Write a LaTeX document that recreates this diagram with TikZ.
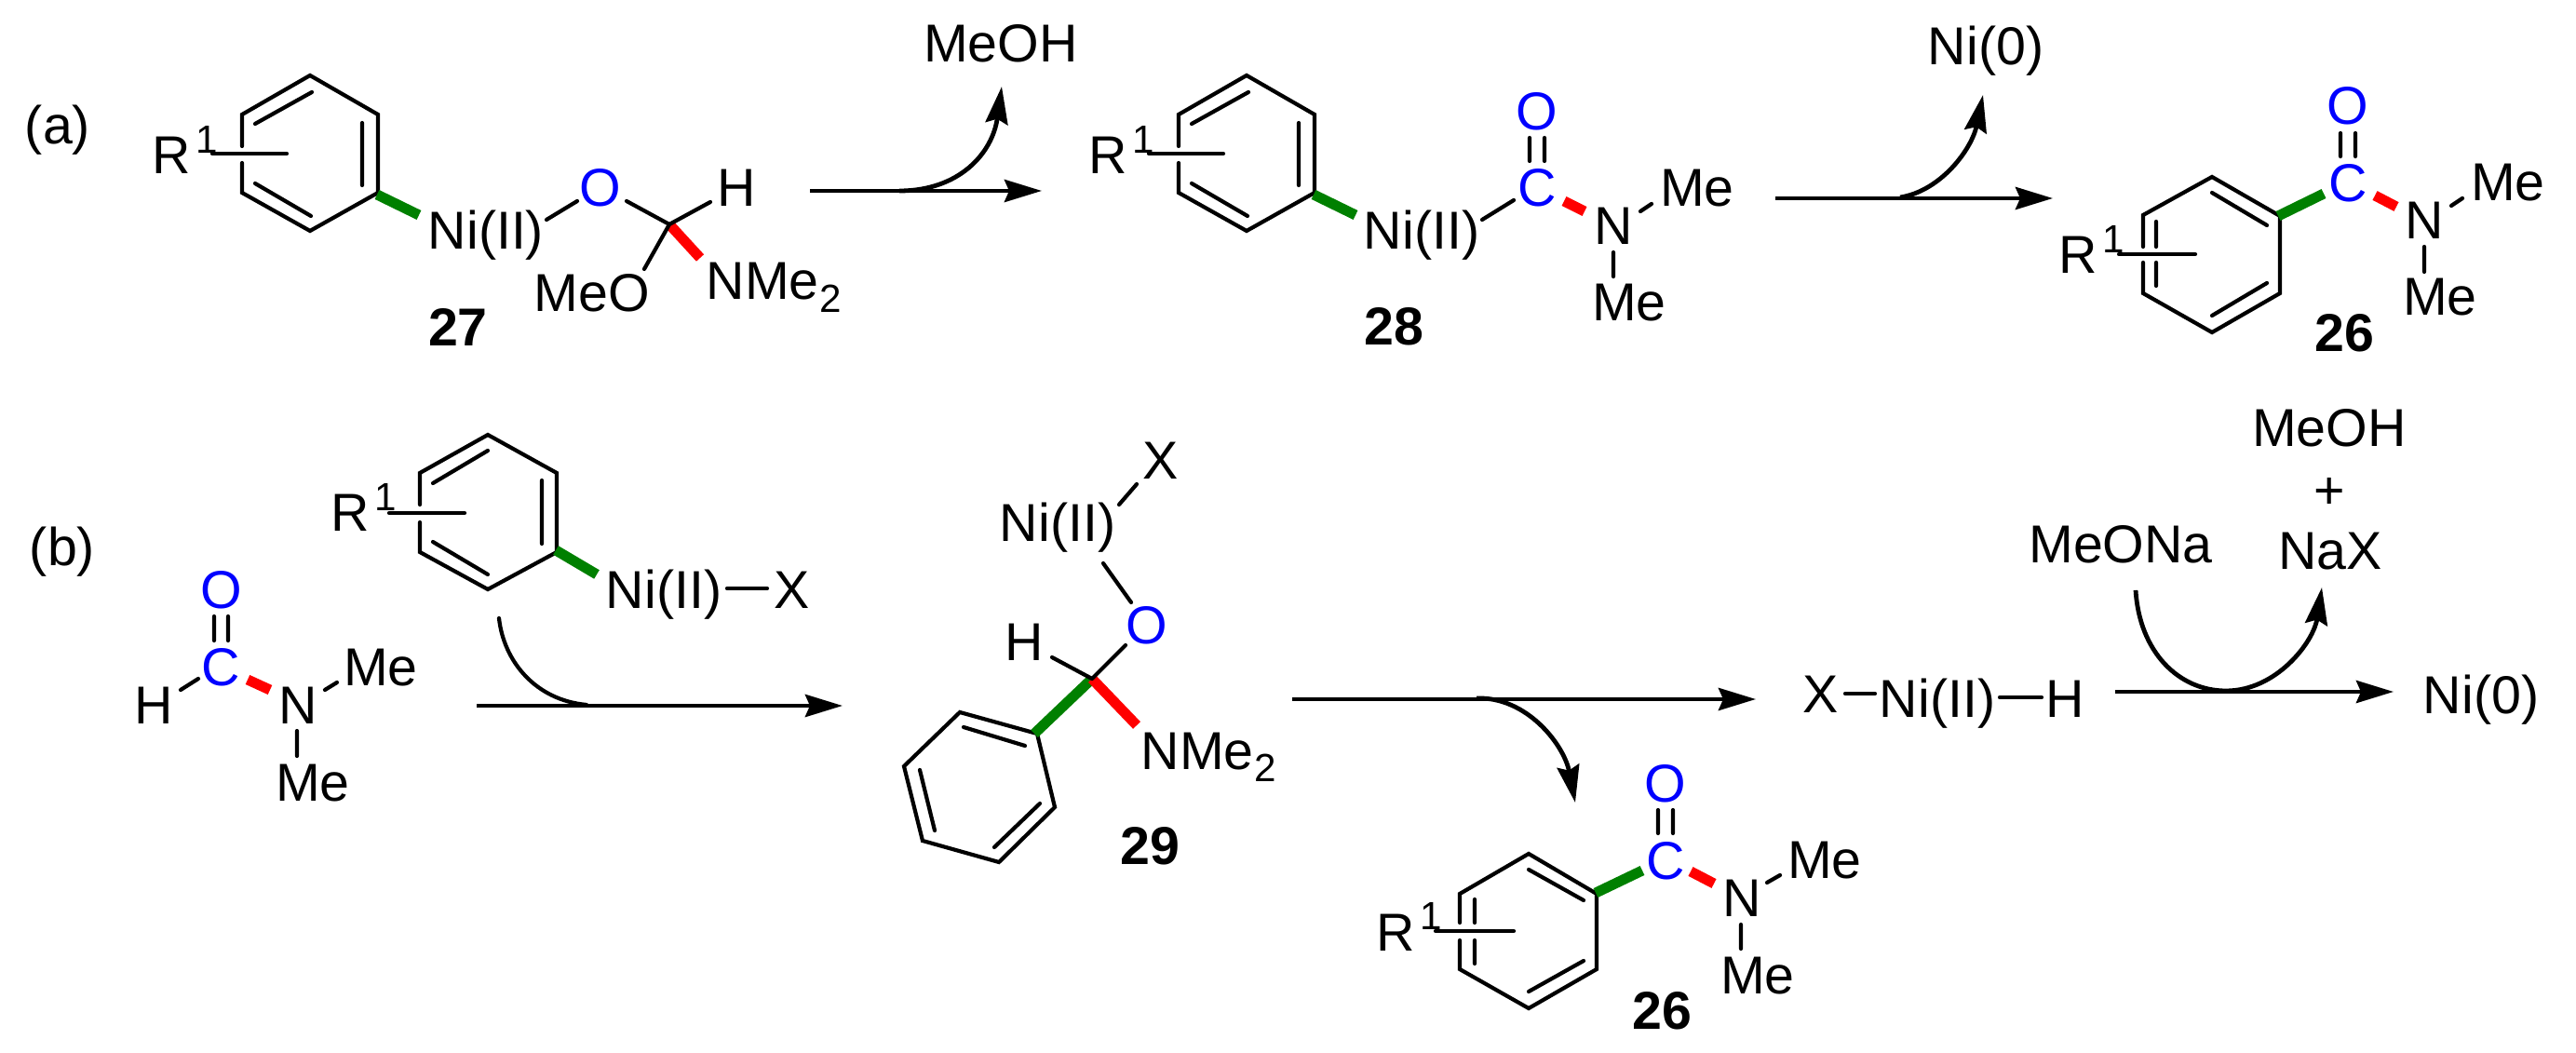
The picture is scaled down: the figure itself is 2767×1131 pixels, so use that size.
\documentclass[tikz,border=0pt]{standalone}
\usepackage{fontspec}
\setmainfont{Liberation Sans}
\usepackage{tikz}
\usetikzlibrary{arrows.meta}
\definecolor{bondgreen}{RGB}{0,128,0}
\definecolor{bondred}{RGB}{255,0,0}
\definecolor{atomblue}{RGB}{0,0,255}
\newcommand{\Rone}{R\hspace{0.05cm}\raisebox{0.22cm}{\fontsize{12}{12}\selectfont 1}}
\newcommand{\NMetwo}{NMe\hspace{0.01cm}\raisebox{-0.13cm}{\fontsize{12}{12}\selectfont 2}}

\begin{document}
\begin{tikzpicture}[x=0.01cm,y=-0.01cm,
	bond/.style={line width=0.042cm,line cap=round},
	ethyl/.style={line width=0.11cm},
	greenbond/.style={ethyl,bondgreen},
	redbond/.style={ethyl,bondred},
	atom/.style={inner sep=0pt,anchor=base,font=\fontsize{16.3}{18}\selectfont},
	hetero/.style={atom,text=atomblue},
	rgroup/.style={atom,anchor=base west},
	compound/.style={atom,font=\fontsize{16.3}{18}\selectfont\bfseries},
	rxn/.style={line width=0.048cm,-{Stealth[length=0.40cm,width=0.24cm,inset=0.05cm]}}]
	\useasboundingbox (0,0) rectangle (2767,1131);

	% scheme (a)
	\node[atom] (labela) at (62,155) {(a)};
	\coordinate (a1) at (333,81); \coordinate (a2) at (406,123); \coordinate (a3) at (406,207);
	\coordinate (a4) at (333,248); \coordinate (a5) at (260,207); \coordinate (a6) at (260,123);
	\coordinate (a5b) at (260,175); \coordinate (a6b) at (260,157);
	\coordinate (ai1) at (335,99); \coordinate (ai2) at (274,133);
	\coordinate (ai3) at (389,132); \coordinate (ai4) at (389,199);
	\coordinate (ai5) at (274,197); \coordinate (ai6) at (334,232);
	\draw[bond] (a6b) -- (a6) -- (a1) -- (a2) -- (a3) -- (a4) -- (a5) -- (a5b);
	\draw[bond] (ai1) -- (ai2) (ai3) -- (ai4) (ai5) -- (ai6);
	\coordinate (ar1) at (228,165); \coordinate (ar2) at (308,165);
	\draw[bond] (ar1) -- (ar2);
	\node[rgroup] (ra) at (163,187) {\Rone};
	\coordinate (ag1) at (405,209); \coordinate (ag2) at (450,231);
	\draw[greenbond] (ag1) -- (ag2);
	\node[atom] (nia) at (522,268) {Ni(II)};
	\node[hetero] (oa) at (645,222) {O};
	\node[atom] (ha) at (791,222) {H};
	\node[atom] (meoa) at (636,335) {MeO};
	\node[rgroup] (nme2a) at (758,322) {\NMetwo};
	\node[compound] (n27) at (492,372) {27};
	\coordinate (ca) at (719,241);
	\coordinate (ab1) at (587,236); \coordinate (ab2) at (620,216);
	\coordinate (ab3) at (673,216); \coordinate (ab4) at (763,217);
	\coordinate (ab5) at (692,289); \coordinate (ab6) at (752,277);
	\draw[redbond] (ca) -- (ab6);
	\draw[bond] (ab1) -- (ab2) (ab3) -- (ca) -- (ab4) (ca) -- (ab5);

	\coordinate (ar1s) at (870,205); \coordinate (ar1e) at (1119,205);
	\coordinate (cv1s) at (966,205); \coordinate (cv1e) at (1076,93);
	\draw[rxn] (ar1s) -- (ar1e);
	\draw[rxn] (cv1s) .. controls (1030,205) and (1066,165) .. (cv1e);
	\node[atom] (meoh1) at (1075,67) {MeOH};

	\coordinate (b1) at (1339,81); \coordinate (b2) at (1412,123); \coordinate (b3) at (1412,207);
	\coordinate (b4) at (1339,248); \coordinate (b5) at (1266,207); \coordinate (b6) at (1266,123);
	\coordinate (b5b) at (1266,175); \coordinate (b6b) at (1266,157);
	\coordinate (bi1) at (1341,99); \coordinate (bi2) at (1280,133);
	\coordinate (bi3) at (1395,132); \coordinate (bi4) at (1395,199);
	\coordinate (bi5) at (1280,197); \coordinate (bi6) at (1340,232);
	\draw[bond] (b6b) -- (b6) -- (b1) -- (b2) -- (b3) -- (b4) -- (b5) -- (b5b);
	\draw[bond] (bi1) -- (bi2) (bi3) -- (bi4) (bi5) -- (bi6);
	\coordinate (br1) at (1234,165); \coordinate (br2) at (1314,165);
	\draw[bond] (br1) -- (br2);
	\node[rgroup] (rb) at (1169,187) {\Rone};
	\coordinate (bg1) at (1411,209); \coordinate (bg2) at (1456,231);
	\draw[greenbond] (bg1) -- (bg2);
	\node[atom] (nib) at (1527,268) {Ni(II)};
	\node[hetero] (cb) at (1651,222) {C};
	\node[hetero] (ob) at (1651,140) {O};
	\node[atom] (nb) at (1733,263) {N};
	\node[atom] (meb1) at (1823,222) {Me};
	\node[atom] (meb2) at (1750,345) {Me};
	\node[compound] (n28) at (1497,371) {28};
	\coordinate (bb1) at (1592,236); \coordinate (bb2) at (1626,215);
	\coordinate (bd1) at (1643,148); \coordinate (bd2) at (1643,173);
	\coordinate (bd3) at (1659,148); \coordinate (bd4) at (1659,173);
	\coordinate (brd1) at (1680,216); \coordinate (brd2) at (1702,227);
	\coordinate (bn1) at (1762,227); \coordinate (bn2) at (1774,219);
	\coordinate (bn3) at (1733,271); \coordinate (bn4) at (1733,297);
	\draw[redbond] (brd1) -- (brd2);
	\draw[bond] (bb1) -- (bb2) (bd1) -- (bd2) (bd3) -- (bd4) (bn1) -- (bn2) (bn3) -- (bn4);

	\coordinate (ar2s) at (1907,213); \coordinate (ar2e) at (2205,213);
	\coordinate (cv2s) at (2041,212); \coordinate (cv2e) at (2130,102);
	\draw[rxn] (ar2s) -- (ar2e);
	\draw[rxn] (cv2s) .. controls (2085,205) and (2118,160) .. (cv2e);
	\node[atom] (ni0a) at (2133,70) {Ni(0)};

	\coordinate (c1) at (2376,190); \coordinate (c2) at (2449,232); \coordinate (c3) at (2449,315);
	\coordinate (c4) at (2376,357); \coordinate (c5) at (2302,315); \coordinate (c6) at (2302,231);
	\coordinate (c5b) at (2302,282); \coordinate (c6b) at (2302,265);
	\coordinate (ci1) at (2376,207); \coordinate (ci2) at (2435,242);
	\coordinate (ci3) at (2316,238); \coordinate (ci4) at (2316,265);
	\coordinate (ci5) at (2316,282); \coordinate (ci6) at (2316,307);
	\coordinate (ci7) at (2376,339); \coordinate (ci8) at (2435,304);
	\draw[bond] (c6b) -- (c6) -- (c1) -- (c2) -- (c3) -- (c4) -- (c5) -- (c5b);
	\draw[bond] (ci1) -- (ci2) (ci3) -- (ci4) (ci5) -- (ci6) (ci7) -- (ci8);
	\coordinate (cr1) at (2276,273); \coordinate (cr2) at (2358,273);
	\draw[bond] (cr1) -- (cr2);
	\node[rgroup] (rc) at (2211,294) {\Rone};
	\coordinate (cg1) at (2447,232); \coordinate (cg2) at (2496,208);
	\draw[greenbond] (cg1) -- (cg2);
	\node[hetero] (cc) at (2522,217) {C};
	\node[hetero] (oc) at (2522,134) {O};
	\node[atom] (nc) at (2604,257) {N};
	\node[atom] (mec1) at (2694,216) {Me};
	\node[atom] (mec2) at (2621,339) {Me};
	\node[compound] (n26a) at (2518,378) {26};
	\coordinate (cd1) at (2514,143); \coordinate (cd2) at (2514,168);
	\coordinate (cd3) at (2530,143); \coordinate (cd4) at (2530,168);
	\coordinate (crd1) at (2551,210); \coordinate (crd2) at (2574,222);
	\coordinate (cn1) at (2633,221); \coordinate (cn2) at (2645,213);
	\coordinate (cn3) at (2604,265); \coordinate (cn4) at (2604,292);
	\draw[redbond] (crd1) -- (crd2);
	\draw[bond] (cd1) -- (cd2) (cd3) -- (cd4) (cn1) -- (cn2) (cn3) -- (cn4);

	% scheme (b)
	\node[atom] (labelb) at (67,607) {(b)};
	\node[hetero] (of) at (238,653) {O};
	\node[hetero] (cf) at (237,736) {C};
	\node[atom] (hf) at (165,777) {H};
	\node[atom] (nf) at (320,777) {N};
	\node[atom] (mef1) at (409,736) {Me};
	\node[atom] (mef2) at (336,860) {Me};
	\coordinate (fd1) at (230,662); \coordinate (fd2) at (230,688);
	\coordinate (fd3) at (245,662); \coordinate (fd4) at (245,688);
	\coordinate (fh1) at (194,741); \coordinate (fh2) at (213,729);
	\coordinate (frd1) at (266,730); \coordinate (frd2) at (290,741);
	\coordinate (fn1) at (349,741); \coordinate (fn2) at (362,733);
	\coordinate (fn3) at (319,785); \coordinate (fn4) at (319,812);
	\draw[redbond] (frd1) -- (frd2);
	\draw[bond] (fd1) -- (fd2) (fd3) -- (fd4) (fh1) -- (fh2) (fn1) -- (fn2) (fn3) -- (fn4);

	\coordinate (d1) at (524,467); \coordinate (d2) at (598,508); \coordinate (d3) at (598,593);
	\coordinate (d4) at (524,633); \coordinate (d5) at (451,593); \coordinate (d6) at (451,508);
	\coordinate (d5b) at (451,561); \coordinate (d6b) at (451,542);
	\coordinate (di1) at (524,484); \coordinate (di2) at (465,519);
	\coordinate (di3) at (582,516); \coordinate (di4) at (582,584);
	\coordinate (di5) at (465,582); \coordinate (di6) at (524,617);
	\draw[bond] (d6b) -- (d6) -- (d1) -- (d2) -- (d3) -- (d4) -- (d5) -- (d5b);
	\draw[bond] (di1) -- (di2) (di3) -- (di4) (di5) -- (di6);
	\coordinate (dr1) at (418,551); \coordinate (dr2) at (499,551);
	\draw[bond] (dr1) -- (dr2);
	\node[rgroup] (rd) at (355,571) {\Rone};
	\coordinate (dg1) at (597,591); \coordinate (dg2) at (641,617);
	\draw[greenbond] (dg1) -- (dg2);
	\node[atom] (nid) at (713,653) {Ni(II)};
	\node[atom] (xd) at (851,653) {X};
	\coordinate (dx1) at (781,632); \coordinate (dx2) at (824,632);
	\draw[bond] (dx1) -- (dx2);

	\coordinate (ar3s) at (512,758); \coordinate (ar3e) at (905,758);
	\coordinate (cv3s) at (536,664); \coordinate (cv3e) at (630,757);
	\draw[rxn] (ar3s) -- (ar3e);
	\draw[bond] (cv3s) .. controls (541,710) and (575,752) .. (cv3e);

	\coordinate (e1) at (1031,765); \coordinate (e2) at (1114,788); \coordinate (e3) at (1133,867);
	\coordinate (e4) at (1073,926); \coordinate (e5) at (991,903); \coordinate (e6) at (971,823);
	\coordinate (ei1) at (1035,781); \coordinate (ei2) at (1101,801);
	\coordinate (ei3) at (988,827); \coordinate (ei4) at (1004,892);
	\coordinate (ei5) at (1117,863); \coordinate (ei6) at (1068,910);
	\draw[bond] (e1) -- (e2) -- (e3) -- (e4) -- (e5) -- (e6) -- cycle;
	\draw[bond] (ei1) -- (ei2) (ei3) -- (ei4) (ei5) -- (ei6);
	\coordinate (ce) at (1173,729); \coordinate (eg) at (1111,788); \coordinate (erd) at (1221,779);
	\draw[greenbond] (ce) -- (eg);
	\draw[redbond] (ce) -- (erd);
	\node[hetero] (oe) at (1232,692) {O};
	\node[atom] (he) at (1100,709) {H};
	\node[atom] (nie) at (1136,582) {Ni(II)};
	\node[atom] (xe) at (1247,515) {X};
	\node[rgroup] (nme2e) at (1225,826) {\NMetwo};
	\node[compound] (n29) at (1235,928) {29};
	\coordinate (eb1) at (1202,542); \coordinate (eb2) at (1221,520);
	\coordinate (eb3) at (1185,605); \coordinate (eb4) at (1215,647);
	\coordinate (eb5) at (1209,693); \coordinate (eb6) at (1130,706);
	\draw[bond] (eb1) -- (eb2) (eb3) -- (eb4) (ce) -- (eb5) (ce) -- (eb6);

	\coordinate (ar4s) at (1388,751); \coordinate (ar4e) at (1886,751);
	\coordinate (cv4s) at (1586,750); \coordinate (cv4e) at (1692,862);
	\draw[rxn] (ar4s) -- (ar4e);
	\draw[rxn] (cv4s) .. controls (1640,748) and (1680,800) .. (cv4e);

	\coordinate (g1) at (1642,917); \coordinate (g2) at (1715,960); \coordinate (g3) at (1715,1041);
	\coordinate (g4) at (1642,1083); \coordinate (g5) at (1568,1041); \coordinate (g6) at (1568,960);
	\coordinate (g5b) at (1568,1010); \coordinate (g6b) at (1568,991);
	\coordinate (gi1) at (1642,934); \coordinate (gi2) at (1701,967);
	\coordinate (gi3) at (1584,966); \coordinate (gi4) at (1584,991);
	\coordinate (gi5) at (1584,1010); \coordinate (gi6) at (1584,1035);
	\coordinate (gi7) at (1642,1065); \coordinate (gi8) at (1701,1032);
	\draw[bond] (g6b) -- (g6) -- (g1) -- (g2) -- (g3) -- (g4) -- (g5) -- (g5b);
	\draw[bond] (gi1) -- (gi2) (gi3) -- (gi4) (gi5) -- (gi6) (gi7) -- (gi8);
	\coordinate (gr1) at (1542,1000); \coordinate (gr2) at (1626,1000);
	\draw[bond] (gr1) -- (gr2);
	\node[rgroup] (rg) at (1478,1021) {\Rone};
	\coordinate (gg1) at (1714,959); \coordinate (gg2) at (1764,935);
	\draw[greenbond] (gg1) -- (gg2);
	\node[hetero] (cg) at (1789,944) {C};
	\node[hetero] (og) at (1789,861) {O};
	\node[atom] (ng) at (1871,984) {N};
	\node[atom] (meg1) at (1960,943) {Me};
	\node[atom] (meg2) at (1888,1067) {Me};
	\node[compound] (n26b) at (1785,1105) {26};
	\coordinate (gd1) at (1781,870); \coordinate (gd2) at (1781,895);
	\coordinate (gd3) at (1797,870); \coordinate (gd4) at (1797,895);
	\coordinate (grd1) at (1816,936); \coordinate (grd2) at (1841,949);
	\coordinate (gn1) at (1898,948); \coordinate (gn2) at (1912,940);
	\coordinate (gn3) at (1870,993); \coordinate (gn4) at (1870,1019);
	\draw[redbond] (grd1) -- (grd2);
	\draw[bond] (gd1) -- (gd2) (gd3) -- (gd4) (gn1) -- (gn2) (gn3) -- (gn4);

	\node[atom] (xh) at (1956,765) {X};
	\node[atom] (nih) at (2081,770) {Ni(II)};
	\node[atom] (hh) at (2218,770) {H};
	\coordinate (hb1) at (1982,745); \coordinate (hb2) at (2014,745);
	\coordinate (hb3) at (2148,749); \coordinate (hb4) at (2193,749);
	\draw[bond] (hb1) -- (hb2) (hb3) -- (hb4);

	\coordinate (ar5s) at (2272,743); \coordinate (ar5e) at (2571,743);
	\coordinate (cv5s) at (2294,634); \coordinate (cv5m) at (2391,742); \coordinate (cv5e) at (2494,631);
	\draw[rxn] (ar5s) -- (ar5e);
	\draw[rxn] (cv5s) .. controls (2298,700) and (2340,742) .. (cv5m) .. controls (2445,742) and (2485,690) .. (cv5e);
	\node[atom] (ni0b) at (2665,766) {Ni(0)};
	\node[atom] (meona) at (2278,604) {MeONa};
	\node[atom] (nax) at (2503,612) {NaX};
	\node[atom] (plus) at (2502,547) {+};
	\node[atom] (meoh2) at (2502,480) {MeOH};
\end{tikzpicture}
\end{document}
